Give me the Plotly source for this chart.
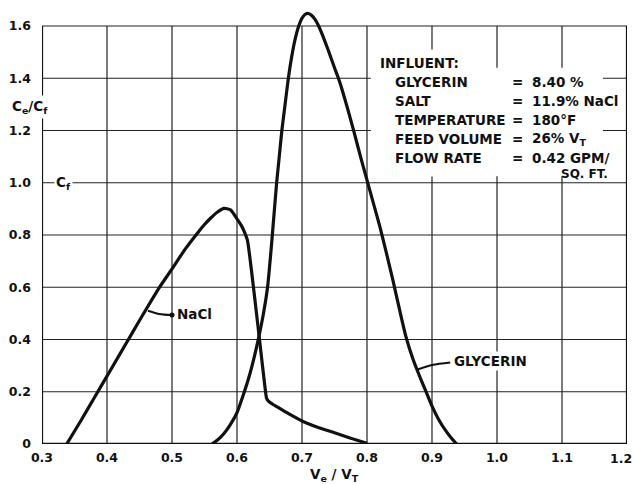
import plotly.graph_objects as go

# ---------------- data ----------------
nacl_x = [0.338, 0.36, 0.38, 0.40, 0.42, 0.44, 0.46, 0.48, 0.50, 0.52, 0.54, 0.55,
          0.56, 0.57, 0.58, 0.59, 0.60, 0.607, 0.612, 0.616, 0.6195, 0.6253, 0.630,
          0.6346, 0.6392, 0.6439, 0.6455, 0.648, 0.655, 0.665, 0.68, 0.70, 0.725,
          0.75, 0.775, 0.80]
nacl_y = [0.0, 0.09, 0.175, 0.26, 0.345, 0.43, 0.515, 0.597, 0.67, 0.745, 0.81, 0.84,
          0.866, 0.888, 0.902, 0.896, 0.862, 0.835, 0.808, 0.78, 0.72, 0.60, 0.50,
          0.40, 0.30, 0.20, 0.175, 0.165, 0.152, 0.137, 0.115, 0.088, 0.063,
          0.043, 0.022, 0.003]

gly_x = [0.5615, 0.57, 0.58, 0.59, 0.60, 0.61, 0.62, 0.63, 0.64, 0.647, 0.653, 0.657,
         0.661, 0.665, 0.669, 0.674, 0.679, 0.684, 0.689, 0.695, 0.70, 0.705, 0.710,
         0.715, 0.72, 0.725, 0.73, 0.74, 0.75, 0.756, 0.76, 0.77, 0.78, 0.79, 0.80,
         0.81, 0.82, 0.83, 0.84, 0.85, 0.86, 0.87, 0.88, 0.89, 0.90, 0.91, 0.92,
         0.93, 0.938]
gly_y = [0.0, 0.015, 0.04, 0.075, 0.12, 0.19, 0.27, 0.37, 0.49, 0.60, 0.76, 0.88,
         1.0, 1.10, 1.20, 1.30, 1.40, 1.48, 1.545, 1.60, 1.63, 1.645, 1.648,
         1.64, 1.625, 1.603, 1.575, 1.51, 1.44, 1.40, 1.37, 1.285, 1.195, 1.10, 1.01,
         0.92, 0.83, 0.73, 0.625, 0.515, 0.41, 0.33, 0.265, 0.205, 0.145, 0.095, 0.055,
         0.022, 0.0]

x_ticks = [0.3, 0.4, 0.5, 0.6, 0.7, 0.8, 0.9, 1.0, 1.1, 1.2]
x_tick_labels = ["0.3", "0.4", "0.5", "0.6", "0.7", "0.8", "0.9", "1.0", "1.1", "1.2"]
y_ticks = [0, 0.2, 0.4, 0.6, 0.8, 1.0, 1.2, 1.4, 1.6]
y_tick_labels = ["0", "0.2", "0.4", "0.6", "0.8", "1.0", "1.2", "1.4", "1.6"]

influent_labels = ["GLYCERIN", "SALT", "TEMPERATURE", "FEED VOLUME", "FLOW RATE"]
influent_values = ["8.40 %", "11.9% NaCl", "180°F", "26% V<sub>T</sub>", "0.42 GPM/"]

# leader lines for curve labels
nacl_leader_x = [0.463, 0.48, 0.50]
nacl_leader_y = [0.51, 0.498, 0.494]
gly_leader_x = [0.878, 0.90, 0.928]
gly_leader_y = [0.285, 0.302, 0.312]

FONT = "DejaVu Sans"
INK = "#111111"
XMIN, XMAX = 0.3, 1.2
YMIN, YMAX = 0.0, 1.6

fig = go.Figure()

curve_line = dict(color=INK, width=3.2, shape="spline", smoothing=0.6)
fig.add_trace(go.Scatter(x=nacl_x, y=nacl_y, mode="lines", line=curve_line,
                         hoverinfo="skip", showlegend=False))
fig.add_trace(go.Scatter(x=gly_x, y=gly_y, mode="lines", line=curve_line,
                         hoverinfo="skip", showlegend=False))
fig.add_trace(go.Scatter(x=nacl_leader_x, y=nacl_leader_y, mode="lines",
                         line=dict(color=INK, width=2, shape="spline"),
                         hoverinfo="skip", showlegend=False))
fig.add_trace(go.Scatter(x=[nacl_leader_x[-1]], y=[nacl_leader_y[-1]], mode="markers",
                         marker=dict(color=INK, size=5),
                         hoverinfo="skip", showlegend=False))
fig.add_trace(go.Scatter(x=gly_leader_x, y=gly_leader_y, mode="lines",
                         line=dict(color=INK, width=2, shape="spline"),
                         hoverinfo="skip", showlegend=False))

shapes = []
for xv in x_ticks:
    shapes.append(dict(type="line", xref="x", yref="y", x0=xv, x1=xv, y0=YMIN, y1=YMAX,
                       line=dict(color="#222222", width=1.2), layer="below"))
for yv in y_ticks:
    shapes.append(dict(type="line", xref="x", yref="y", x0=XMIN, x1=XMAX, y0=yv, y1=yv,
                       line=dict(color="#222222", width=1.2), layer="below"))
# white area behind influent block
shapes.append(dict(type="rect", xref="x", yref="y", x0=0.806, x1=0.946, y0=1.025, y1=1.51,
                   fillcolor="white", line=dict(width=0), layer="below"))
shapes.append(dict(type="rect", xref="x", yref="y", x0=0.806, x1=1.163, y0=1.025, y1=1.44,
                   fillcolor="white", line=dict(width=0), layer="below"))
# heavy frame lines
shapes.append(dict(type="line", xref="x", yref="y", x0=XMIN, x1=XMAX, y0=0, y1=0,
                   line=dict(color=INK, width=2.4), layer="below"))
shapes.append(dict(type="line", xref="x", yref="y", x0=XMIN, x1=XMIN, y0=0, y1=YMAX,
                   line=dict(color=INK, width=2.2), layer="below"))
shapes.append(dict(type="line", xref="x", yref="y", x0=XMAX, x1=XMAX, y0=0, y1=YMAX,
                   line=dict(color=INK, width=2.2), layer="below"))

ann = []
tf = dict(family=FONT, size=13.5, color=INK, weight="bold")
tickf = dict(family=FONT, size=12.5, color=INK, weight="bold")
ann.append(dict(x=0.817, y=1.460, xref="x", yref="y", text="INFLUENT:", showarrow=False,
                xanchor="left", yanchor="middle", font=tf))
rows_y = [1.386, 1.313, 1.240, 1.167, 1.095]
for lab, val, ry in zip(influent_labels, influent_values, rows_y):
    ann.append(dict(x=0.840, y=ry, xref="x", yref="y", text=lab, showarrow=False,
                    xanchor="left", yanchor="middle", font=tf))
    ann.append(dict(x=1.032, y=ry, xref="x", yref="y", text="=", showarrow=False,
                    xanchor="center", yanchor="middle", font=tf))
    ann.append(dict(x=1.050, y=ry, xref="x", yref="y", text=val, showarrow=False,
                    xanchor="left", yanchor="middle", font=tf))
ann.append(dict(x=1.174, y=1.034, xref="x", yref="y", text="SQ. FT.", showarrow=False,
                xanchor="right", yanchor="middle",
                font=dict(family=FONT, size=12, color=INK, weight="bold")))

# curve labels
ann.append(dict(x=0.505, y=0.497, xref="x", yref="y", text="NaCl", showarrow=False,
                xanchor="left", yanchor="middle", font=tf, bgcolor="white", borderpad=1))
ann.append(dict(x=0.931, y=0.318, xref="x", yref="y", text="GLYCERIN", showarrow=False,
                xanchor="left", yanchor="middle", font=tf, bgcolor="white", borderpad=1))
ann.append(dict(x=0.333, y=1.0, xref="x", yref="y", text="C<sub>f</sub>", showarrow=False,
                xanchor="center", yanchor="middle", font=tf, bgcolor="white", borderpad=1))
# axis titles (paper coordinates so they are drawn outside the plotting area)
ann.append(dict(x=-0.021, y=0.768, xref="paper", yref="paper",
                text="C<sub>e</sub>/C<sub>f</sub>",
                showarrow=False, xanchor="center", yanchor="middle", font=tf,
                bgcolor="white", borderpad=2))
ann.append(dict(x=0.5, y=-0.071, xref="paper", yref="paper",
                text="V<sub>e</sub> / V<sub>T</sub>",
                showarrow=False, xanchor="center", yanchor="middle", font=tf))
# last x tick label, pulled in so it stays inside the page edge
ann.append(dict(x=1.0115, y=-0.0325, xref="paper", yref="paper",
                text=x_tick_labels[-1], showarrow=False,
                xanchor="right", yanchor="middle", font=tickf))

fig.update_layout(
    width=634, height=484,
    margin=dict(l=42, r=7, t=5, b=40, autoexpand=False),
    paper_bgcolor="white", plot_bgcolor="white",
    shapes=shapes, annotations=ann,
    showlegend=False,
    xaxis=dict(range=[XMIN, XMAX], tickvals=x_ticks[:-1], ticktext=x_tick_labels[:-1],
               showgrid=False, zeroline=False, showline=False, ticks="",
               tickfont=tickf, ticklabelstandoff=4, automargin=False,
               fixedrange=True),
    yaxis=dict(range=[YMIN, 1.6804], tickvals=y_ticks, ticktext=y_tick_labels,
               showgrid=False, zeroline=False, showline=False, ticks="",
               tickfont=tickf, ticklabelstandoff=10, ticklabeloverflow="allow",
               automargin=False, fixedrange=True),
)

fig.write_html("out.html")
